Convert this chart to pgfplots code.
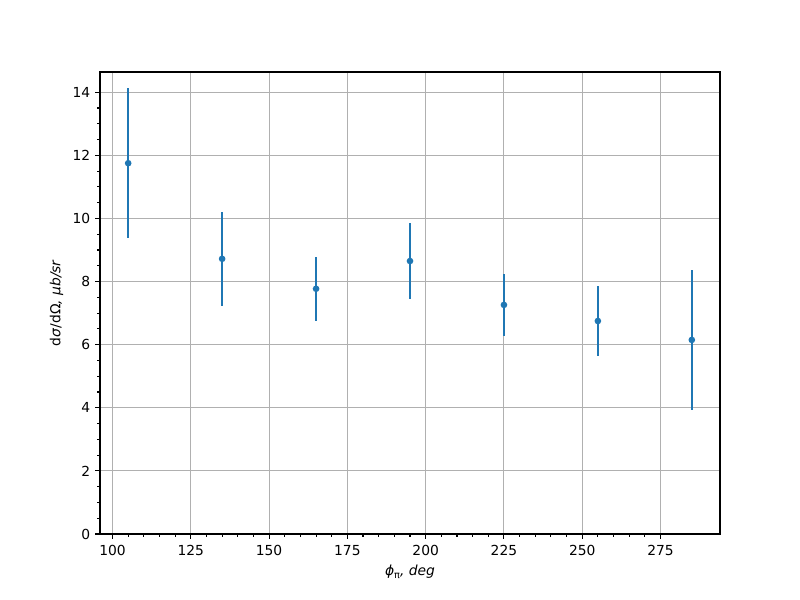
\documentclass[border=0pt]{standalone}
\usepackage{fontspec}
\setmainfont{DejaVu Sans}
\usepackage{pgfplots}
\pgfplotsset{compat=1.18}
\definecolor{mplblue}{HTML}{1F77B4}
\definecolor{gridgray}{HTML}{B0B0B0}
\begin{document}
\fontsize{10pt}{12pt}\selectfont
\begin{tikzpicture}
\begin{axis}[
  scale only axis,
  width=6.2in, height=4.62in,
  xmin=96, xmax=294, ymin=0, ymax=14.64,
  xtick={100,125,150,175,200,225,250,275},
  ytick={0,2,4,6,8,10,12,14},
  minor x tick num=4,
  minor y tick num=3,
  tick align=outside,
  major tick length=3.5pt,
  minor tick length=2pt,
  tick style={black, line width=0.8pt},
  xtick pos=left, ytick pos=left,
  grid=major,
  major grid style={gridgray, line width=0.8pt},
  axis line style={black, line width=0.8pt},
  /pgf/number format/assume math mode=true,
  ticklabel style={font=\fontsize{10pt}{12pt}\selectfont},
  xticklabel style={yshift=-1pt},
  xlabel={\textit{ϕ}\raisebox{-0.35ex}{\fontsize{7pt}{8pt}\selectfont π}\textit{, deg}},
  ylabel={d\textit{σ}/dΩ\textit{, μb/sr}},
  label style={font=\fontsize{10pt}{12pt}\selectfont},
]
\addplot[mplblue, only marks, mark=*, mark size=1.6pt, line width=1.5pt,
  error bars/.cd, y dir=both, y explicit,
  error bar style={mplblue, line width=1.5pt},
  error mark=none]
coordinates {
  (105,11.75) +- (0,2.38)
  (135,8.72) +- (0,1.49)
  (165,7.77) +- (0,1.02)
  (195,8.65) +- (0,1.21)
  (225,7.26) +- (0,0.97)
  (255,6.75) +- (0,1.12)
  (285,6.15) +- (0,2.22)
};
\end{axis}
\path[use as bounding box] ([xshift=-1in,yshift=-0.66in]current axis.south west) rectangle ([xshift=0.8in,yshift=0.72in]current axis.north east);
\end{tikzpicture}
\end{document}
